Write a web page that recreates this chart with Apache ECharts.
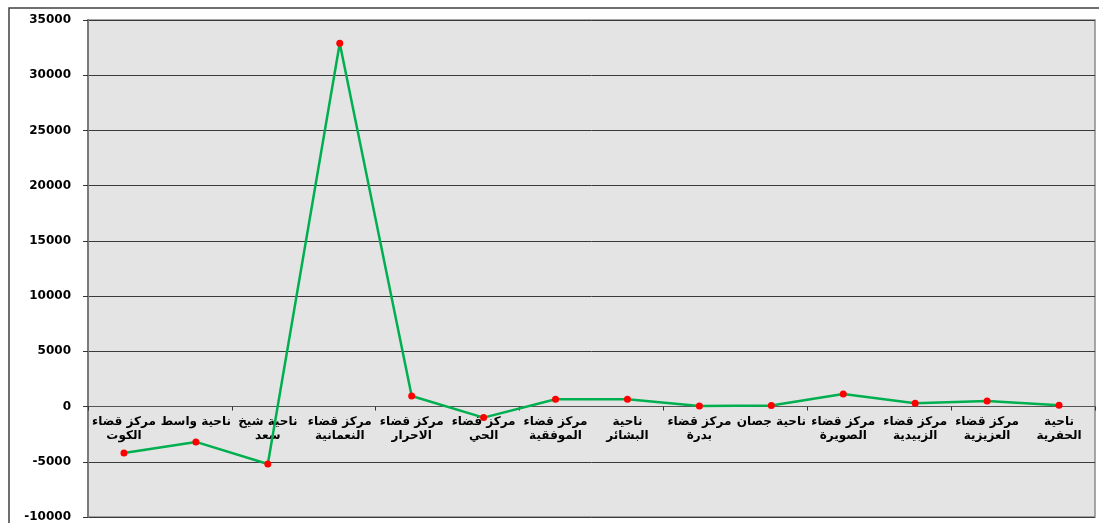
<!DOCTYPE html>
<html>
<head>
<meta charset="utf-8">
<script src="https://cdn.jsdelivr.net/npm/echarts@6/dist/echarts.min.js"></script>
<style>
html,body{margin:0;padding:0;background:#fff;}
#chart{width:1099px;height:523px;}
</style>
</head>
<body>
<div id="chart"></div>
<script>
var categories = [
  "مركز قضاء\nالكوت",
  "ناحية واسط",
  "ناحية شيخ\nسعد",
  "مركز قضاء\nالنعمانية",
  "مركز قضاء\nالاحرار",
  "مركز قضاء\nالحي",
  "مركز قضاء\nالموفقية",
  "ناحية\nالبشائر",
  "مركز قضاء\nبدرة",
  "ناحية جصان",
  "مركز قضاء\nالصويرة",
  "مركز قضاء\nالزبيدية",
  "مركز قضاء\nالعزيزية",
  "ناحية\nالحفرية"
];
var values = [-4200, -3200, -5200, 32900, 950, -1000, 660, 660, 50, 100, 1140, 300, 500, 120];
var yMin = -10000, yMax = 35000, yStep = 5000;

var labelStyle = {
  show: true, interval: 0, margin: 8, hideOverlap: false,
  color: '#000000', fontFamily: 'DejaVu Sans', fontWeight: 'bold', fontSize: 12,
  lineHeight: 14
};

var chart = echarts.init(document.getElementById('chart'), null, {renderer: 'canvas'});
chart.setOption({
  backgroundColor: '#ffffff',
  animation: false,
  graphic: [{
    type: 'rect', z: -10,
    shape: {x: 9, y: 8, width: 1200, height: 600},
    style: {fill: '#ffffff', stroke: '#404040', lineWidth: 1.5}
  }],
  grid: {
    left: 88, top: 20, right: 4, bottom: 6,
    show: true, backgroundColor: '#e4e4e4', borderColor: '#8a8a8a', borderWidth: 1.5,
    outerBoundsMode: 'none'
  },
  xAxis: [{
    type: 'category',
    data: categories,
    boundaryGap: true,
    axisLine: {show: true, onZero: true, lineStyle: {color: '#555555', width: 1}},
    axisTick: {show: true, length: 4, lineStyle: {color: '#333333'}},
    axisLabel: {show: false},
    splitLine: {show: false}
  }, {
    type: 'category',
    data: categories,
    position: 'bottom',
    boundaryGap: true,
    offset: 0,
    axisLine: {show: false, onZero: false},
    axisTick: {show: false},
    axisLabel: labelStyle,
    splitLine: {show: false}
  }],
  yAxis: {
    type: 'value',
    min: yMin, max: yMax, interval: yStep,
    axisLine: {show: true, lineStyle: {color: '#7a7a7a', width: 2}},
    axisTick: {show: true, length: 5, lineStyle: {color: '#333333'}},
    axisLabel: {
      margin: 17, color: '#000000', fontFamily: 'DejaVu Sans', fontWeight: 'bold', fontSize: 12,
      formatter: function (v) { return String(v); }
    },
    splitLine: {show: true, lineStyle: {color: '#3a3a3a', width: 1}}
  },
  series: [{
    type: 'line',
    data: values,
    xAxisIndex: 0,
    symbol: 'circle', symbolSize: 7,
    itemStyle: {color: '#ff0000', borderWidth: 0},
    lineStyle: {color: '#00b050', width: 2.5},
    z: 5
  }]
});
var zeroPx = chart.convertToPixel({yAxisIndex: 0}, 0);
var bottomPx = chart.convertToPixel({yAxisIndex: 0}, yMin);
chart.setOption({xAxis: [{}, {offset: zeroPx - bottomPx}]});
</script>
</body>
</html>
